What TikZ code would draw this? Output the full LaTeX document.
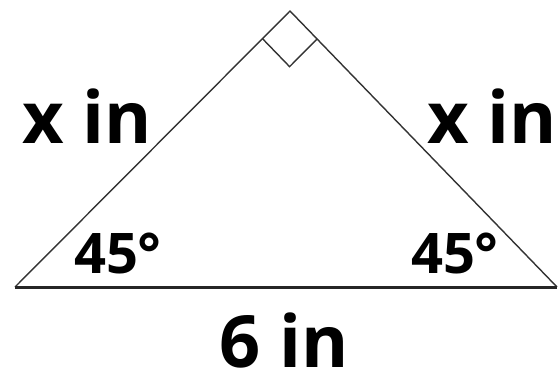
\documentclass[tikz,border=0pt]{standalone}
\usepackage{fontspec}
\setmainfont{Open Sans}
\usetikzlibrary{calc}

\tikzset{
  side/.style={line width=1.4pt, black!80},
  base/.style={line width=3pt, black!85},
  sidelabel/.style={anchor=base, inner sep=0pt, font=\fontsize{72}{76}\selectfont\bfseries},
  anglelabel/.style={anchor=base, inner sep=0pt, font=\fontsize{56}{60}\selectfont\bfseries}
}

\begin{document}
\begin{tikzpicture}[x=1pt, y=-1pt]
\useasboundingbox (0,0) rectangle (558,376);
% corners of the triangle
\coordinate (L) at (15,287);
\coordinate (R) at (557,287);
\coordinate (T) at (290,11);
\draw[side] (L) -- (T) -- (R);
\draw[base] (L) -- (R);
% right angle mark
\coordinate (ml) at ($(T)!39pt!(L)$);
\coordinate (mr) at ($(T)!39pt!(R)$);
\draw[side] (ml) -- ($(ml)+(mr)-(T)$) -- (mr);
% labels
\node[sidelabel] (left) at (87,143) {x in};
\node[sidelabel] (right) at (492,143) {x in};
\node[sidelabel] (bottom) at (284,367) {6 in};
\node[anglelabel] (angL) at (118,273) {45°};
\node[anglelabel] (angR) at (455,273) {45°};
\end{tikzpicture}
\end{document}
